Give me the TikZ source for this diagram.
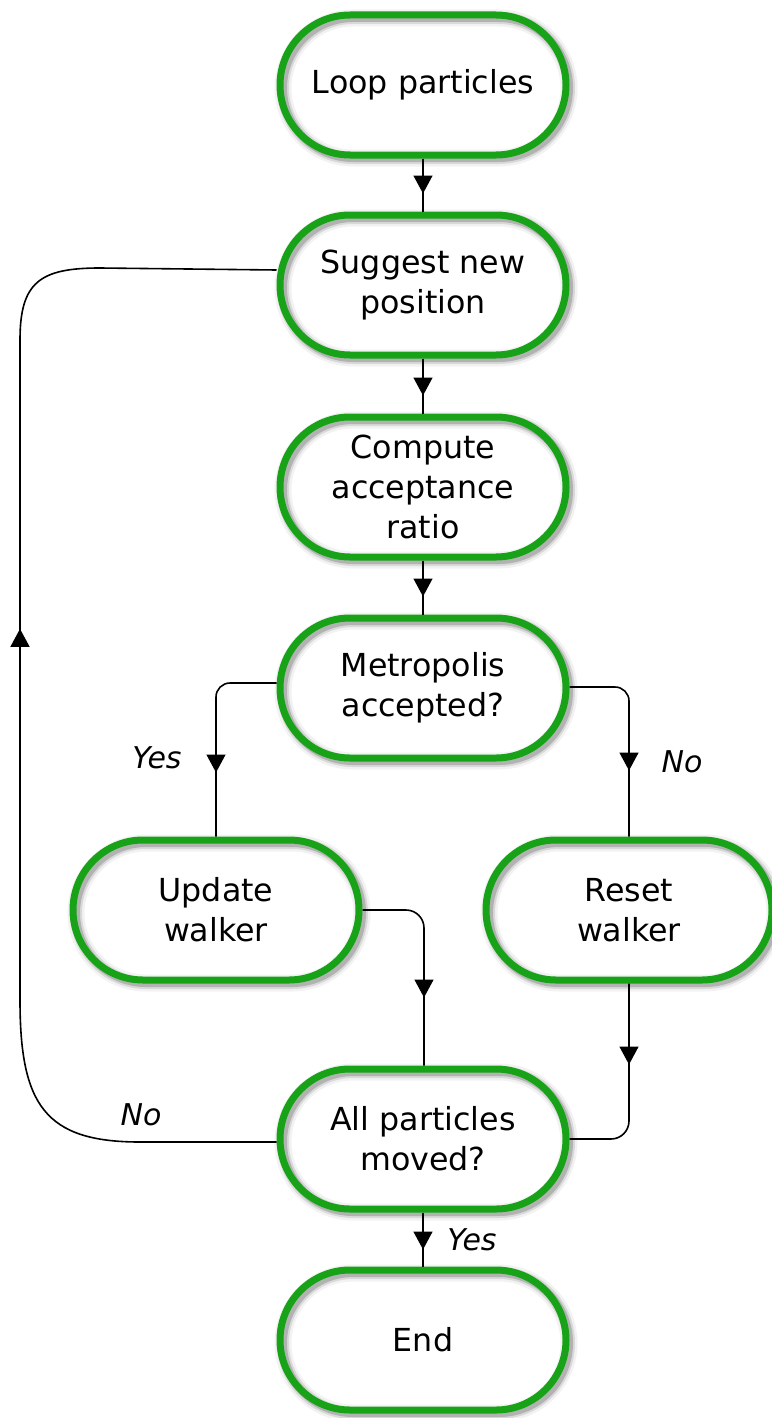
\documentclass[tikz,border=0pt]{standalone}
\usepackage{fontspec}
\setmainfont{DejaVu Sans}
\usetikzlibrary{arrows.meta,decorations.markings}
\definecolor{flowgreen}{RGB}{24,162,24}

\tikzset{
  terminal/.style={rectangle, rounded corners=70pt, minimum width=286pt, minimum height=140pt,
    inner sep=0pt, line width=7pt, draw=flowgreen, align=center,
    font=\fontsize{31.7}{40}\selectfont,
    preaction={draw=black, draw opacity=0.05, line width=17pt, transform canvas={shift={(3pt,-3pt)}}},
    preaction={draw=black, draw opacity=0.10, line width=12pt, transform canvas={shift={(3pt,-3pt)}}},
    preaction={draw=black, draw opacity=0.18, line width=8pt, transform canvas={shift={(3pt,-3pt)}}}},
  flow/.style={line width=1.6pt},
  tipat/.style={postaction={decorate}, decoration={markings,
    mark=at position #1 with {\arrow{Triangle[width=19pt,length=18pt]}}}},
  lbl/.style={font=\fontsize{30}{36}\selectfont\itshape, inner sep=0pt}
}

\begin{document}
\begin{tikzpicture}[x=1pt, y=-1pt]
  \useasboundingbox (0,0) rectangle (771,1418);

  % process steps
  \node[terminal] (loop)    at (423,85)   {Loop particles};
  \node[terminal] (suggest) at (423,285)  {Suggest new\\position};
  \node[terminal] (compute) at (423,487)  {Compute\\acceptance\\ratio};
  \node[terminal] (metro)   at (423,688)  {Metropolis\\accepted?};
  \node[terminal] (update)  at (216,910)  {Update\\walker};
  \node[terminal] (reset)   at (629,910)  {Reset\\walker};
  \node[terminal] (all)     at (423,1139) {All particles\\moved?};
  \node[terminal] (end)     at (423,1340) {End};

  % straight links
  \draw[flow, tipat=-18pt] (loop) -- (suggest);
  \draw[flow, tipat=-18pt] (suggest) -- (compute);
  \draw[flow, tipat=-18pt] (compute) -- (metro);
  \draw[flow, tipat=-17pt] (all) -- (end);

  % branches of the acceptance test
  \draw[flow, rounded corners=14pt, tipat=-64pt] ([yshift=5pt]metro.west) -| (update.north);
  \draw[flow, rounded corners=14pt, tipat=-66pt] ([yshift=1pt]metro.east) -| (reset.north);
  \draw[flow, rounded corners=18pt, tipat=-68pt] (update.east) -| ([xshift=1pt]all.north);
  \draw[flow, rounded corners=18pt, tipat=81pt] (reset.south) |- (all.east);

  % loop back to the next move
  \coordinate (lb) at (20,1000);
  \coordinate (lt) at (20,340);
  \draw[flow, tipat=-593pt] ([yshift=-3pt]all.west) -- (140,1142)
      .. controls (45,1142) and (20,1105) .. (lb) -- (lt)
      .. controls (20,282) and (40,268) .. (100,268) -- ([yshift=15pt]suggest.west);

  % branch labels
  \node[lbl] (yesL) at (157,758)  {Yes};
  \node[lbl] (noR)  at (682,762)  {No};
  \node[lbl] (noL)  at (141,1115) {No};
  \node[lbl] (yesB) at (472,1240) {Yes};
\end{tikzpicture}
\end{document}
